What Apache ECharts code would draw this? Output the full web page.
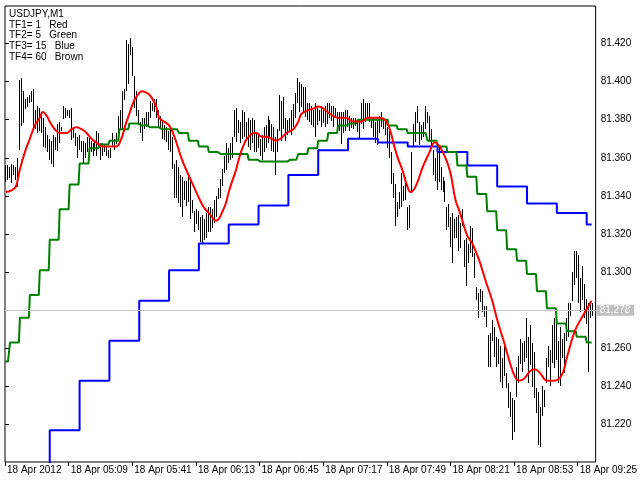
<!DOCTYPE html>
<html><head><meta charset="utf-8">
<script src="https://cdn.jsdelivr.net/npm/echarts@6/dist/echarts.min.js"></script>
<style>html,body{margin:0;padding:0;background:#fff}#c{width:640px;height:480px}</style>
</head><body><div id="c"></div><script>
// USDJPY M1 bars, 18 Apr 2012, one bar per minute starting 04:37
const highs = [
81.356,81.356,81.355,81.357,81.356,81.355,81.360,81.401,81.402,81.395,
81.391,81.392,81.393,81.395,81.396,81.385,81.387,81.386,81.384,81.381,
81.376,81.372,81.370,81.369,81.372,81.371,81.378,81.379,81.376,81.387,
81.386,81.385,81.385,81.386,81.376,81.373,81.371,81.372,81.369,81.369,
81.368,81.371,81.372,81.369,81.368,81.369,81.374,81.373,
81.368,81.368,81.367,81.366,81.364,81.365,81.373,81.370,81.373,81.382,
81.385,81.395,81.396,81.422,81.420,81.423,81.418,81.403,81.395,81.385,
81.379,81.381,81.381,81.384,81.384,81.390,81.389,81.391,81.391,81.385,
81.382,81.380,81.377,81.376,81.374,81.375,81.371,81.357,81.359,81.355,
81.351,81.350,81.348,81.348,81.350,81.348,81.338,81.332,81.333,81.332,
81.329,81.330,81.328,81.331,81.334,81.334,81.333,81.338,81.340,81.344,
81.349,81.354,81.361,81.368,81.365,81.368,81.371,81.385,81.386,81.380,
81.379,81.385,81.384,81.379,81.381,81.380,81.381,81.380,81.373,81.372,
81.370,81.372,81.376,81.377,81.382,81.380,81.378,81.376,81.371,81.375,
81.393,81.390,81.392,81.381,81.380,81.381,81.385,81.388,81.394,81.402,
81.400,81.399,81.397,81.397,81.389,81.389,81.387,81.385,81.389,81.386,
81.385,81.387,81.385,81.387,81.389,81.389,81.387,81.387,81.386,81.384,
81.384,81.384,81.384,81.385,81.385,81.382,81.381,81.381,81.381,81.379,
81.380,81.389,81.391,81.389,81.389,81.389,81.380,81.381,81.379,81.381,
81.382,81.384,81.381,81.379,81.376,81.374,81.363,81.352,81.346,81.337,
81.342,81.352,81.345,81.350,81.334,81.335,81.363,81.378,81.384,81.387,
81.379,81.377,81.379,81.387,81.384,81.382,81.375,81.364,81.360,81.363,
81.366,81.355,81.350,81.348,81.334,81.336,81.329,81.331,81.328,81.329,
81.330,81.326,81.333,81.317,81.318,81.315,81.324,81.323,81.310,81.292,
81.289,81.291,81.290,81.282,81.282,81.267,81.268,81.275,81.271,81.266,
81.265,81.261,81.255,81.261,81.247,81.242,81.237,81.234,81.233,81.250,
81.256,81.265,81.263,81.264,81.276,81.266,81.272,81.263,81.258,81.239,
81.237,81.229,81.240,81.238,81.255,81.261,81.259,81.272,81.276,81.274,
81.264,81.271,81.265,81.268,81.276,81.284,81.284,81.300,81.311,81.311,
81.309,81.297,81.303,81.294,81.286,81.284,81.284,81.284
];
const lows = [
81.347,81.348,81.349,81.347,81.351,81.348,81.345,81.364,81.377,81.378,
81.386,81.387,81.389,81.389,81.376,81.375,81.373,81.374,81.373,81.366,
81.365,81.363,81.359,81.357,81.355,81.364,81.364,81.368,81.374,81.380,
81.381,81.382,81.381,81.369,81.370,81.366,81.360,81.364,81.363,81.357,
81.360,81.363,81.364,81.363,81.361,81.364,81.361,81.366,
81.359,81.361,81.363,81.361,81.360,81.360,81.366,81.364,81.367,81.369,
81.375,81.375,81.390,81.395,81.399,81.414,81.403,81.386,81.382,81.377,
81.373,81.369,81.375,81.376,81.376,81.381,81.385,81.384,81.381,81.376,
81.375,81.370,81.369,81.368,81.364,81.363,81.354,81.339,81.339,81.336,
81.334,81.329,81.338,81.335,81.337,81.328,81.331,81.321,81.325,81.322,
81.316,81.315,81.317,81.318,81.321,81.321,81.323,81.326,81.329,81.338,
81.339,81.345,81.352,81.354,81.357,81.359,81.360,81.371,81.368,81.373,
81.368,81.370,81.371,81.369,81.366,81.364,81.368,81.363,81.363,81.365,
81.361,81.359,81.363,81.365,81.368,81.371,81.364,81.363,81.351,81.363,
81.374,81.369,81.375,81.369,81.372,81.374,81.372,81.376,81.381,81.389,
81.384,81.387,81.384,81.381,81.380,81.379,81.377,81.376,81.371,81.377,
81.379,81.376,81.378,81.376,81.378,81.381,81.379,81.376,81.381,81.375,
81.374,81.367,81.373,81.374,81.376,81.374,81.376,81.375,81.377,81.374,
81.370,81.378,81.375,81.379,81.381,81.379,81.376,81.371,81.368,81.367,
81.373,81.376,81.375,81.372,81.365,81.360,81.346,81.339,81.324,81.329,
81.333,81.334,81.337,81.338,81.322,81.323,81.342,81.366,81.368,81.378,
81.367,81.369,81.371,81.375,81.378,81.369,81.366,81.351,81.348,81.343,
81.347,81.343,81.342,81.337,81.322,81.324,81.313,81.305,81.318,81.318,
81.311,81.313,81.324,81.303,81.293,81.305,81.310,81.308,81.297,81.285,
81.276,81.284,81.279,81.276,81.271,81.250,81.250,81.264,81.255,81.250,
81.252,81.242,81.239,81.245,81.239,81.229,81.224,81.212,81.216,81.234,
81.242,81.252,81.248,81.253,81.255,81.242,81.251,81.240,81.234,81.226,
81.209,81.208,81.224,81.229,81.242,81.250,81.240,81.252,81.250,81.254,
81.242,81.240,81.255,81.247,81.264,81.266,81.277,81.285,81.293,81.297,
81.284,81.279,81.285,81.276,81.273,81.248,81.276,81.277
];
// TF1 (red) smoothed line: bar index / value
const redK = [0.5,3.5,5.5,7.5,10,12.5,15,17.5,19,21,22.5,25,27.5,31,33.5,36,38.5,41,43.5,46,49,52.5,56,58.5,60.5,62.5,64.5,66,69,71.5,73.5,76,77.5,80,82.5,84.5,86.5,89,91,94,97.5,100,102.5,104,106,107.5,109,111,112.5,114,116,117.5,119,121,122.5,125,126.5,129,131.5,134,136,138.5,141.5,145,147.5,149,152.5,155.5,157.5,160,163.5,167.5,171.5,175,179,182.5,187.5,191,193.5,195.5,197.5,200,202,204,206.5,210,213.5,216,218.5,221.5,224,226.5,228.5,230,232.5,235,238.5,241.5,245,247.5,251,254,256.5,258.5,261,264,266.5,269,272.5,276,280,282.5,286.5,290,295];
const redV = [81.342,81.343,81.345,81.354,81.363,81.370,81.377,81.381,81.384,81.382,81.379,81.375,81.373,81.373,81.375,81.376,81.375,81.373,81.370,81.368,81.366,81.366,81.366,81.370,81.377,81.383,81.389,81.392,81.395,81.394,81.392,81.387,81.381,81.379,81.377,81.373,81.367,81.359,81.354,81.347,81.339,81.334,81.331,81.329,81.327,81.328,81.331,81.336,81.342,81.347,81.353,81.359,81.364,81.369,81.371,81.373,81.373,81.371,81.371,81.370,81.369,81.370,81.373,81.375,81.379,81.383,81.385,81.386,81.387,81.386,81.383,81.381,81.381,81.379,81.379,81.381,81.381,81.380,81.375,81.367,81.360,81.353,81.346,81.342,81.345,81.355,81.363,81.368,81.366,81.360,81.352,81.338,81.332,81.327,81.319,81.315,81.306,81.296,81.285,81.275,81.263,81.252,81.245,81.243,81.244,81.248,81.249,81.247,81.243,81.243,81.246,81.255,81.269,81.276,81.285];
// TF2 (green): one value per 5-bar block
const greenV = [81.253,81.263,81.276,81.288,81.301,81.317,81.333,81.346,81.357,81.365,
81.367,81.369,81.375,81.378,81.377,81.376,81.375,81.375,81.373,81.369,
81.366,81.363,81.362,81.362,81.362,81.359,81.358,81.358,81.358,81.359,
81.362,81.365,81.369,81.373,81.377,81.378,81.380,81.380,81.380,81.377,
81.375,81.373,81.373,81.369,81.366,81.363,81.356,81.350,81.341,81.332,
81.322,81.312,81.306,81.299,81.290,81.281,81.273,81.269,81.266,81.263];
// TF3 (blue): one value per 15-bar block
const blueV = [81.190,81.217,81.243,81.264,81.285,81.301,81.315,81.325,81.335,81.351,81.364,81.370,81.368,81.366,81.363,81.356,81.345,81.336,81.331,81.325];
const bidPrice = 81.278;
const tickIndex = [0,32,64,96,128,160,192,224,256,288];
const tickLabels = ["18 Apr 2012","18 Apr 05:09","18 Apr 05:41","18 Apr 06:13","18 Apr 06:45","18 Apr 07:17","18 Apr 07:49","18 Apr 08:21","18 Apr 08:53","18 Apr 09:25"];
const priceTicks = [81.22,81.24,81.26,81.28,81.30,81.32,81.34,81.36,81.38,81.40,81.42];
const infoLines = ["USDJPY,M1","TF1= 1   Red","TF2= 5   Green","TF3= 15   Blue","TF4= 60   Brown"];

const FONT = 'Liberation Sans';
const barData = highs.map((h,i)=>[i,h,lows[i]]);
const greenData = highs.map((_,k)=>[k, greenV[Math.floor((2*k+5)/10)]]);
const blueData = [];
for (let k=21;k<highs.length;k++) blueData.push([k, blueV[Math.floor((k-23)/15)+1]]);
const redData = redK.map((k,i)=>[k, redV[i]]);

const chart = echarts.init(document.getElementById('c'), null, {renderer:'canvas'});
chart.setOption({
  animation:false,
  backgroundColor:'#fff',
  grid:{left:5, top:6, right:41, bottom:18, show:true, borderColor:'#000', borderWidth:1},
  xAxis:{type:'value', min:0, max:297,
    axisLine:{show:false}, splitLine:{show:false},
    axisTick:{show:true, customValues:tickIndex, length:4, lineStyle:{color:'#000'}},
    axisLabel:{customValues:tickIndex, formatter:v=>tickLabels[tickIndex.indexOf(v)], align:'left', margin:3, padding:[0,0,0,2], color:'#000', fontFamily:FONT, fontSize:10}},
  yAxis:{type:'value', position:'right', min:81.2003, max:81.4397,
    axisLine:{show:false}, splitLine:{show:false},
    axisTick:{show:true, customValues:priceTicks, length:4, lineStyle:{color:'#000'}},
    axisLabel:{customValues:priceTicks, formatter:v=>v.toFixed(3), margin:5, color:'#000', fontFamily:FONT, fontSize:10}},
  graphic: infoLines.map((t,i)=>({type:'text', left:9, top:9+i*10.8, style:{text:t, fill:'#000', font:'10px "Liberation Sans"'}})),
  series:[
    {type:'line', data:[], z:1, silent:true,
      markLine:{silent:true, symbol:['none','none'], animation:false,
        data:[{yAxis:bidPrice}],
        lineStyle:{color:'#c0c0c0', type:'solid', width:1},
        label:{show:true, position:'end', formatter:bidPrice.toFixed(3), backgroundColor:'#c0c0c0', color:'#fff', padding:[1,4,0,3], distance:1, fontFamily:FONT, fontSize:10}}},
    {type:'custom', z:2, data:barData, encode:{x:0, y:[1,2]},
      renderItem:(params, api)=>{
        const p1 = api.coord([api.value(0), api.value(1)]);
        const p2 = api.coord([api.value(0), api.value(2)]);
        return {type:'rect', shape:{x:Math.round(p1[0]), y:Math.round(p1[1]), width:1, height:Math.max(1, Math.round(p2[1]-p1[1]))}, style:{fill:'#000'}};
      }},
    {type:'line', z:3, data:blueData, step:'middle', showSymbol:false, lineStyle:{color:'#0000ff', width:2}},
    {type:'line', z:4, data:greenData, step:'middle', showSymbol:false, lineStyle:{color:'#008000', width:2}},
    {type:'line', z:5, data:redData, smooth:0.4, showSymbol:false, lineStyle:{color:'#ff0000', width:2}}
  ]
});
</script></body></html>
